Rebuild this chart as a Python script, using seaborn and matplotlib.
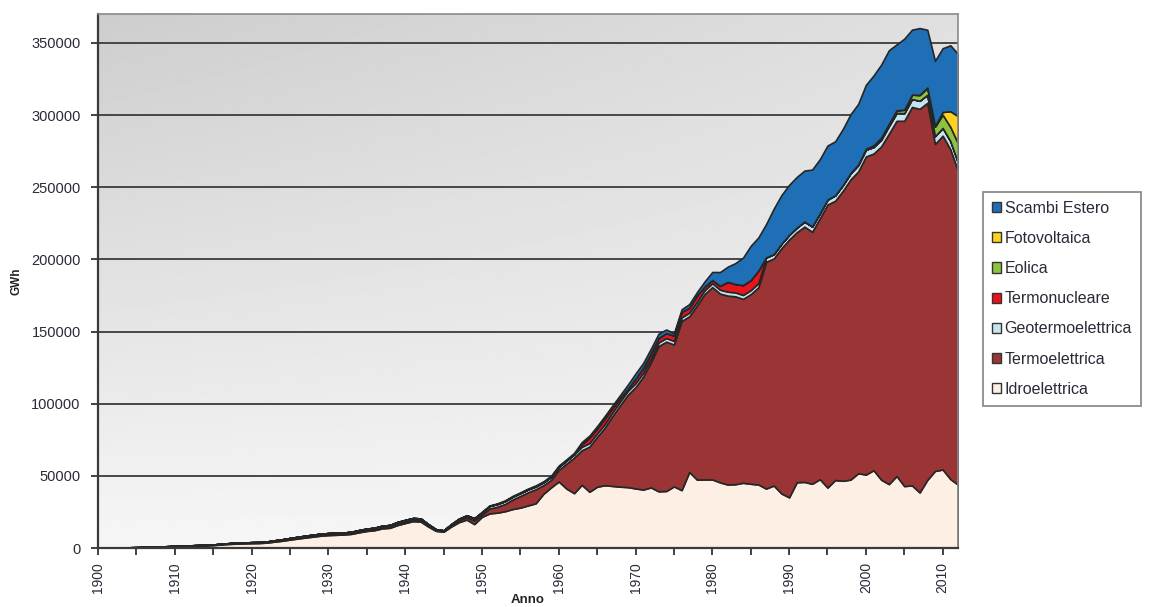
import numpy as np
import matplotlib
matplotlib.use("Agg")
import matplotlib.pyplot as plt
import seaborn as sns
from matplotlib.patches import Patch

# ---------------- data (GWh), years 1900-2012 ----------------
years = list(range(1900, 2013))

idroelettrica = [
    120, 160, 200, 280, 360, 450, 580, 700, 830, 1000,
    1150, 1330, 1500, 1670, 1850, 2000, 2450, 2800, 3050, 3200,
    3350, 3450, 3750, 4450, 5050, 5850, 6550, 7250, 7900, 8550,
    8950, 9150, 9350, 9800, 10900, 11800, 12350, 13600, 14000, 15900,
    17300, 18600, 18400, 14900, 11900, 11300, 14900, 17900, 19700, 16600,
    21600, 24000, 24500, 25500, 27000, 28000, 29500, 31000, 37500, 42000,
    46100, 41200, 38000, 43800, 39000, 42500, 43500, 43000, 42500, 42200,
    41300, 40500, 42000, 39300, 39500, 42700, 40100, 52700, 47400, 47500,
    47500, 45500, 44000, 44200, 45200, 44500, 44000, 41200, 43300, 37800,
    35100, 45600, 45800, 44500, 47700, 41900, 47100, 46600, 47400, 51800,
    50900, 53900, 47300, 44300, 49900, 42900, 43400, 38500, 47200, 53400,
    54400, 47800, 43900,
]

termoelettrica = [
    30, 40, 50, 70, 90, 100, 120, 150, 170, 200,
    250, 270, 300, 320, 340, 390, 430, 480, 530, 580,
    620, 620, 710, 800, 880, 960, 1040, 1120, 1170, 1220,
    1220, 1200, 1150, 1100, 1100, 1150, 1150, 1200, 1300, 1450,
    1200, 1100, 1100, 1000, 900, 700, 1100, 1400, 1600, 2500,
    1500, 3400, 4100, 5000, 6600, 8100, 9100, 9700, 6000, 5200,
    8000, 17200, 24600, 23900, 31300, 34500, 40000, 48500, 56500, 64000,
    70200, 78300, 86700, 100600, 103500, 98300, 117200, 107900, 120700, 128500,
    133300, 130800, 130900, 130200, 127400, 131400, 136700, 157100, 157300, 169900,
    178600, 173200, 176900, 174600, 180700, 196100, 193500, 200900, 208000, 209100,
    220400, 219400, 231000, 242800, 246100, 253100, 262200, 265800, 261300, 226600,
    231300, 228500, 217500,
]

geotermoelettrica = [
    0, 0, 0, 0, 0, 0, 0, 0, 0, 0,
    0, 0, 0, 10, 10, 10, 20, 20, 20, 20,
    30, 30, 40, 50, 70, 90, 110, 130, 130, 130,
    130, 150, 200, 300, 400, 450, 500, 600, 600, 650,
    900, 1000, 1000, 600, 200, 200, 500, 900, 1300, 1500,
    1600, 1800, 1900, 2000, 2000, 2000, 2000, 2000, 2000, 2100,
    2110, 2200, 2300, 2400, 2400, 2450, 2500, 2600, 2600, 2700,
    2720, 2700, 2600, 2500, 2500, 2480, 2500, 2500, 2500, 2600,
    2670, 2700, 2700, 2700, 2700, 2760, 2800, 2900, 3000, 3100,
    3220, 3200, 3500, 3700, 3400, 3440, 3760, 3900, 4200, 4400,
    4705, 4507, 4662, 5341, 5437, 5324, 5527, 5569, 5520, 5342,
    5376, 5654, 5592,
]

termonucleare = [0] * 63 + [
    1800, 3900, 3500, 3900, 3200, 2400, 1500,
    3200, 3400, 3600, 3100, 3400, 3800, 3800, 3400, 4400, 2600,
    2200, 2700, 6800, 5800, 6900, 7000, 8800, 170, 0, 0,
] + [0] * 23

eolica = [0] * 95 + [
    10, 33, 118, 232, 403,
    563, 1179, 1404, 1458, 1847, 2343, 2971, 4034, 4861, 6543,
    9126, 9856, 13407,
]

fotovoltaica = [0] * 100 + [
    18, 19, 20, 22, 27, 31, 35, 39, 193, 676,
    1906, 10796, 18862,
]

scambi_estero = [0] * 50 + [
    400, 300, 400, 500, 500, 500, 600, 700, 700, 800,
    900, 800, 1000, 1500, 1300, 1500, 1600, 1500, 2000, 2800,
    3500, 3300, 3200, 3000, 2500, 1500, 1800, 2500, 2300, 3500,
    5600, 9500, 10500, 14500, 19000, 23700, 22900, 23000, 31500, 33700,
    34700, 35100, 35300, 39400, 37600, 37400, 37400, 38800, 40700, 42000,
    44300, 48400, 50600, 51000, 45600, 49200, 45000, 46300, 40000, 45000,
    44200, 45700, 43100,
]

series_names = ["Idroelettrica", "Termoelettrica", "Geotermoelettrica",
                "Termonucleare", "Eolica", "Fotovoltaica", "Scambi Estero"]
series_values = [idroelettrica, termoelettrica, geotermoelettrica,
                 termonucleare, eolica, fotovoltaica, scambi_estero]
series_colors = ["#fdefe3", "#9b3535", "#c6e4f0", "#e8141b",
                 "#8dc43f", "#ffd21f", "#1e6fb6"]

x_ticks = list(range(1900, 2011, 10))
y_ticks = list(range(0, 350001, 50000))

# ---------------- style ----------------
sns.set_theme(style="white")
plt.rcParams['font.family'] = ['Liberation Sans', 'DejaVu Sans']

W, H = 1151, 607
fig = plt.figure(figsize=(W / 100, H / 100), dpi=100)
fig.patch.set_facecolor("white")
L, R, T, B = 98, 958, 14, 548
ax = fig.add_axes([L / W, 1 - B / H, (R - L) / W, (B - T) / H])

xmin, xmax, ymin, ymax = 1900, 2012, 0, 370000

# background gradient (darker top-left, lighter bottom)
gx = np.linspace(0, 1, 300)
gy = np.linspace(0, 1, 300)
GX, GY = np.meshgrid(gx, gy)
grad = 0.965 - 0.16 * GY * (1 - 0.45 * GX)
ax.imshow(grad, cmap="gray", vmin=0, vmax=1, extent=[xmin, xmax, ymin, ymax],
          origin="lower", aspect="auto", zorder=0, interpolation="bilinear")

ax.set_axisbelow(True)
ax.yaxis.grid(True, color="#474747", linewidth=1.4, zorder=0.5)
ax.xaxis.grid(False)

ax.stackplot(years, *series_values, colors=series_colors,
             edgecolor="#262626", linewidth=1.2, zorder=2)

ax.set_xlim(xmin, xmax)
ax.set_ylim(ymin, ymax)
ax.set_xticks(x_ticks)
ax.set_xticks(list(range(1905, 2011, 10)), minor=True)
ax.set_yticks(y_ticks)
ax.set_yticklabels([str(v) for v in y_ticks])

tick_col = "#2a2a38"
ax.tick_params(axis="x", which="both", bottom=True, direction="out", length=5,
               width=1.3, color="#333333", labelrotation=90, labelsize=10,
               labelcolor=tick_col, pad=5)
ax.tick_params(axis="y", which="major", left=True, direction="out", length=5,
               width=1.3, color="#333333", labelsize=10.5, labelcolor=tick_col,
               pad=7.5)

for side in ["left", "bottom"]:
    ax.spines[side].set_color("#3a3a3a")
    ax.spines[side].set_linewidth(1.6)
for side in ["top", "right"]:
    ax.spines[side].set_color("#8a8a8a")
    ax.spines[side].set_linewidth(1.2)

ax.set_ylabel("GWh", fontsize=8.5, fontweight="bold", color="#222222")
ax.yaxis.set_label_coords(-0.088, 0.5)
ax.set_xlabel("Anno", fontsize=9.5, fontweight="bold", color="#222222")
ax.xaxis.set_label_coords(0.5, -0.086)

handles = [Patch(facecolor=c, edgecolor="#333333", linewidth=1.0)
           for c in series_colors][::-1]
labels = series_names[::-1]
leg = fig.legend(handles, labels, loc="upper left",
                 bbox_to_anchor=(983 / W, 1 - 192 / H), frameon=True,
                 fancybox=False, edgecolor="#6f6f6f", fontsize=11.5,
                 handlelength=0.6, handleheight=0.6, handletextpad=0.2,
                 labelspacing=0.95, borderpad=0.55, borderaxespad=0)
leg.get_frame().set_linewidth(1.3)
for t in leg.get_texts():
    t.set_color("#2a2a38")

fig.savefig("out.png", dpi=100)
